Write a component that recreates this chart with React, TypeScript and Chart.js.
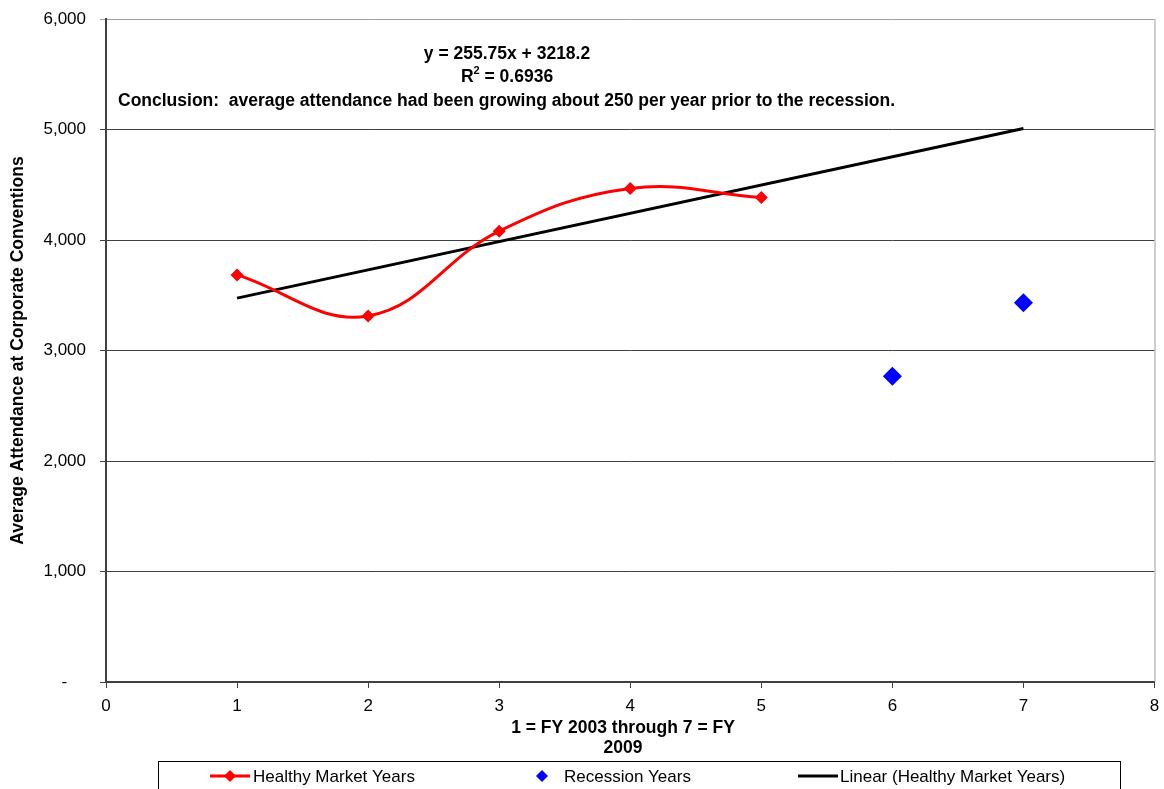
import React, { useEffect, useRef } from "react";
import { Chart, registerables } from "chart.js";

Chart.register(...registerables);

// Fiscal-year index (1 = FY 2003 ... 7 = FY 2009)
const healthyYears = [1, 2, 3, 4, 5];
const healthyAttendance = [3684, 3313, 4080, 4467, 4385];
const recessionYears = [6, 7];
const recessionAttendance = [2768, 3431];

// Linear trend fitted to the healthy-market years
const trendSlope = 255.75;
const trendIntercept = 3218.2;
const trendRSquared = 0.6936;
const trendYears = [1, 7];

const yTicks = [0, 1000, 2000, 3000, 4000, 5000, 6000];
const xTitleLines = ["1 = FY 2003 through 7 = FY", "2009"];
const yTitle = "Average Attendance at Corporate Conventions";
const conclusion =
  "Conclusion:  average attendance had been growing about 250 per year prior to the recession.";

const FONT = "'Liberation Sans', Arial, sans-serif";
const BOLD = `bold 17.5px ${FONT}`;

function diamond(ctx: CanvasRenderingContext2D, x: number, y: number, r: number, color: string) {
  ctx.save();
  ctx.fillStyle = color;
  ctx.beginPath();
  ctx.moveTo(x, y - r);
  ctx.lineTo(x + r, y);
  ctx.lineTo(x, y + r);
  ctx.lineTo(x - r, y);
  ctx.closePath();
  ctx.fill();
  ctx.restore();
}

const decorations = {
  id: "decorations",
  afterDraw(chart: any) {
    const ctx: CanvasRenderingContext2D = chart.ctx;
    const area = chart.chartArea;
    ctx.save();

    // plot frame on the right
    ctx.strokeStyle = "#a0a0a0";
    ctx.lineWidth = 1;
    ctx.beginPath();
    ctx.moveTo(area.right + 0.5, area.top);
    ctx.lineTo(area.right + 0.5, area.bottom);
    ctx.stroke();

    // trend equation and conclusion
    ctx.fillStyle = "#000";
    ctx.textBaseline = "middle";
    ctx.font = BOLD;
    const eq = `y = ${trendSlope}x + ${trendIntercept}`;
    ctx.textAlign = "center";
    ctx.fillText(eq, 507, 54);

    const rPart = "R";
    const rest = ` = ${trendRSquared}`;
    const wR = ctx.measureText(rPart).width;
    const wRest = ctx.measureText(rest).width;
    ctx.font = `bold 11px ${FONT}`;
    const wSup = ctx.measureText("2").width;
    const total = wR + wSup + wRest;
    const x0 = 507 - total / 2;
    ctx.textAlign = "left";
    ctx.font = BOLD;
    ctx.fillText(rPart, x0, 77);
    ctx.font = `bold 11px ${FONT}`;
    ctx.fillText("2", x0 + wR, 71);
    ctx.font = BOLD;
    ctx.fillText(rest, x0 + wR + wSup, 77);

    ctx.fillText(conclusion, 118, 101);

    // x-axis title
    ctx.textAlign = "center";
    ctx.font = BOLD;
    xTitleLines.forEach((line, i) => ctx.fillText(line, 623, 728 + i * 20));

    // legend
    ctx.strokeStyle = "#000";
    ctx.lineWidth = 1;
    ctx.strokeRect(158.5, 761.5, 962, 40);
    const ds = chart.data.datasets;
    const ly = 776;
    ctx.font = `17px ${FONT}`;
    ctx.textAlign = "left";

    ctx.strokeStyle = ds[0].borderColor;
    ctx.lineWidth = 3;
    ctx.beginPath();
    ctx.moveTo(210, ly);
    ctx.lineTo(250, ly);
    ctx.stroke();
    diamond(ctx, 230, ly, 6, ds[0].pointBackgroundColor);
    ctx.fillText(ds[0].label, 253, ly + 1);

    diamond(ctx, 542, ly, 6, ds[1].pointBackgroundColor);
    ctx.fillText(ds[1].label, 564, ly + 1);

    ctx.strokeStyle = ds[2].borderColor;
    ctx.lineWidth = 3;
    ctx.beginPath();
    ctx.moveTo(798, ly);
    ctx.lineTo(838, ly);
    ctx.stroke();
    ctx.fillText(ds[2].label, 840, ly + 1);

    ctx.restore();
  },
};

export default function App() {
  const ref = useRef<HTMLCanvasElement>(null);

  useEffect(() => {
    if (!ref.current) return;
    const chart = new Chart(ref.current, {
      type: "scatter",
      data: {
        datasets: [
          {
            label: "Healthy Market Years",
            type: "line",
            data: healthyYears.map((x, i) => ({ x, y: healthyAttendance[i] })),
            borderColor: "#ff0000",
            borderWidth: 3,
            tension: 0.4,
            pointStyle: "rectRot",
            pointRadius: 6.5,
            pointBackgroundColor: "#ff0000",
            pointBorderColor: "#ff0000",
            pointBorderWidth: 0,
            showLine: true,
            fill: false,
          },
          {
            label: "Recession Years",
            data: recessionYears.map((x, i) => ({ x, y: recessionAttendance[i] })),
            pointStyle: "rectRot",
            pointRadius: 9.5,
            pointBackgroundColor: "#0000ff",
            pointBorderColor: "#0000ff",
            pointBorderWidth: 0,
            showLine: false,
          },
          {
            label: "Linear (Healthy Market Years)",
            type: "line",
            data: trendYears.map((x) => ({ x, y: trendSlope * x + trendIntercept })),
            borderColor: "#000000",
            borderWidth: 3,
            pointRadius: 0,
            showLine: true,
            fill: false,
            tension: 0,
          },
        ],
      },
      options: {
        responsive: false,
        animation: false,
        layout: { padding: { top: 19, right: 4, left: 0, bottom: 27 } },
        plugins: {
          legend: { display: false },
          tooltip: { enabled: false },
        },
        scales: {
          x: {
            type: "linear",
            min: 0,
            max: 8,
            afterFit: (s: any) => {
              s.height = 80;
              s.paddingLeft = 0;
              s.paddingRight = 0;
            },
            ticks: {
              stepSize: 1,
              color: "#000",
              padding: 8,
              font: { family: FONT, size: 17 },
            },
            grid: {
              drawOnChartArea: false,
              drawTicks: true,
              tickLength: 6,
              color: "#404040",
            },
            border: { color: "#404040", width: 2 },
          },
          y: {
            type: "linear",
            min: 0,
            max: 6000,
            afterFit: (s: any) => {
              s.width = 106;
              s.paddingTop = 0;
              s.paddingBottom = 0;
            },
            afterBuildTicks: (s: any) => {
              s.ticks = yTicks.map((value) => ({ value }));
            },
            ticks: {
              color: "#000",
              padding: 14,
              font: { family: FONT, size: 17 },
              callback: (v: any) => (v === 0 ? "-    " : Number(v).toLocaleString("en-US")),
            },
            grid: {
              drawTicks: true,
              tickLength: 6,
              color: (c: any) => (c.tick && c.tick.value === 6000 ? "#a0a0a0" : "#404040"),
              lineWidth: 1,
            },
            border: { color: "#404040", width: 2 },
            title: {
              display: true,
              text: yTitle,
              color: "#000",
              font: { family: FONT, size: 17.5, weight: "bold" },
              padding: { top: 8, bottom: 0 },
            },
          },
        },
      },
      plugins: [decorations],
    });
    return () => chart.destroy();
  }, []);

  return (
    <div style={{ position: "absolute", left: 0, top: 0, width: 1164, height: 789, background: "#fff" }}>
      <canvas ref={ref} width={1164} height={789} style={{ display: "block" }} />
    </div>
  );
}
